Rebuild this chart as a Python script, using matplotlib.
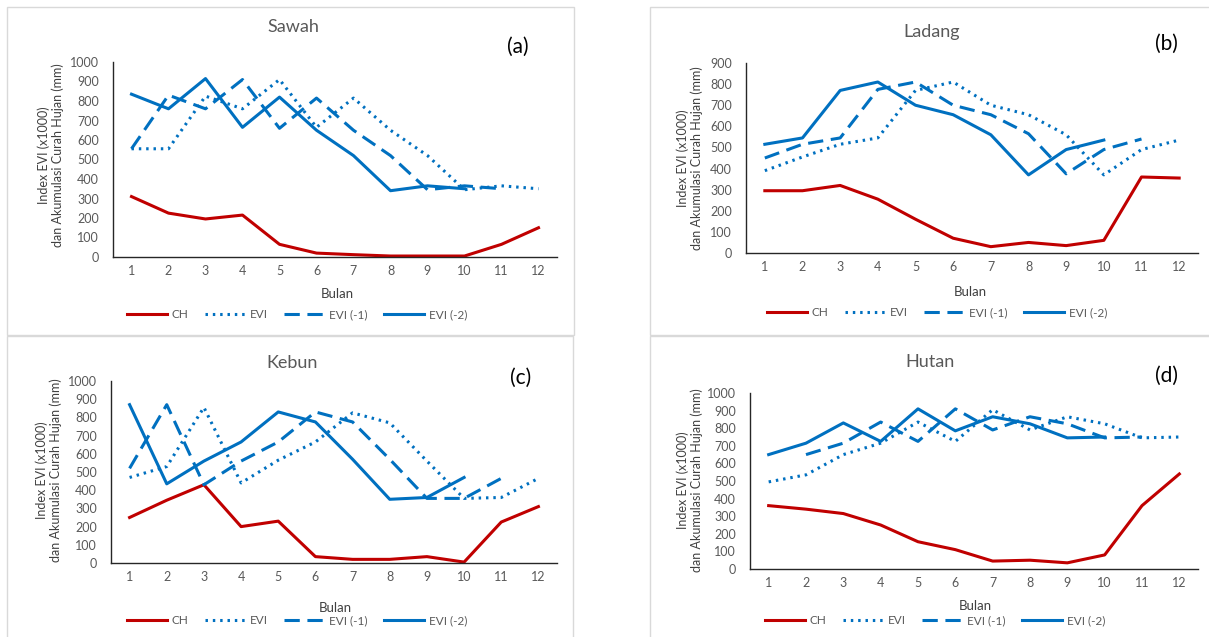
import numpy as np
import matplotlib
matplotlib.use('Agg')
import matplotlib.pyplot as plt
from matplotlib.patches import Rectangle

plt.rcParams['font.family'] = ['Lato', 'DejaVu Sans']

######### Data #############################################
bulan = list(range(1, 13))
nan = np.nan

# Sawah (a)
ch_sawah = [310, 225, 195, 215, 65, 20, 12, 5, 5, 5, 65, 150]
evi_sawah = [555, 555, 825, 760, 910, 665, 815, 650, 520, 345, 365, 350]
evi1_sawah = [555, 830, 760, 910, 660, 815, 650, 520, 345, 365, 350, nan]
evi2_sawah = [835, 760, 915, 665, 820, 650, 520, 340, 365, 350, nan, nan]

# Ladang (b)
ch_ladang = [295, 295, 320, 255, 160, 70, 30, 50, 35, 60, 360, 355]
evi_ladang = [390, 455, 515, 545, 770, 810, 700, 655, 560, 370, 490, 535]
evi1_ladang = [450, 515, 545, 775, 810, 700, 655, 565, 375, 490, 540, nan]
evi2_ladang = [515, 545, 770, 810, 700, 655, 560, 370, 490, 535, nan, nan]

# Kebun (c)
ch_kebun = [250, 345, 430, 200, 230, 35, 20, 20, 35, 5, 225, 310]
evi_kebun = [470, 530, 855, 440, 565, 665, 825, 770, 560, 355, 360, 465]
evi1_kebun = [520, 870, 430, 560, 665, 830, 775, 570, 355, 355, 465, nan]
evi2_kebun = [870, 435, 560, 665, 830, 775, 570, 350, 360, 470, nan, nan]

# Hutan (d)
ch_hutan = [360, 340, 315, 250, 155, 110, 45, 50, 35, 80, 360, 540]
evi_hutan = [495, 535, 650, 715, 835, 725, 905, 790, 865, 825, 745, 750]
evi1_hutan = [nan, 650, 715, 835, 725, 910, 790, 865, 825, 745, 750, nan]
evi2_hutan = [650, 715, 830, 725, 910, 785, 865, 825, 745, 750, nan, nan]

judul = ['Sawah', 'Ladang', 'Kebun', 'Hutan']
huruf = ['(a)', '(b)', '(c)', '(d)']
ymax = [1000, 900, 1000, 1000]

red = '#C00000'
blue = '#0070C0'
gray = '#595959'

W, H = 1209, 637
fig = plt.figure(figsize=(W / 100, H / 100), dpi=100)


def fx(x):
    return x / W


def fy(y):
    return 1 - y / H


def box(l, t, r, b):
    return [fx(l), fy(b), (r - l) / W, (b - t) / H]


# panel frames (light gray borders around each Excel chart)
for l, t, r, b in [(7, 7, 574, 335), (650, 7, 1215, 335), (7, 336, 573, 645), (650, 336, 1215, 645)]:
    fig.patches.append(Rectangle((fx(l), fy(b)), (r - l) / W, (b - t) / H, transform=fig.transFigure,
                                 fill=False, edgecolor='#D9D9D9', lw=1))

axes_pos = [(113, 62, 557, 257), (746, 63, 1198, 253), (111, 381, 557, 563), (750, 393, 1198, 569)]
title_pos = [(293, 27), (932, 32), (292, 363), (930, 362)]
tag_pos = [(518, 47), (1166, 44), (521, 378), (1166, 376)]
xlab_pos = [(337, 294), (970, 292), (335, 608), (975, 606)]
ylab_pos = [(51, 155), (690, 158), (49, 470), (690, 480)]
leg_pos = [(297, 315), (937, 313), (297, 621), (935, 621)]

series = [
    (ch_sawah, evi_sawah, evi1_sawah, evi2_sawah),
    (ch_ladang, evi_ladang, evi1_ladang, evi2_ladang),
    (ch_kebun, evi_kebun, evi1_kebun, evi2_kebun),
    (ch_hutan, evi_hutan, evi1_hutan, evi2_hutan),
]

for i in range(4):
    ch, evi, evi1, evi2 = series[i]
    ax = fig.add_axes(box(*axes_pos[i]))
    lw = 2.2
    ax.plot(bulan, ch, color=red, lw=lw, label='CH', solid_joinstyle='round')
    ax.plot(bulan, evi, color=blue, lw=lw, linestyle=(0, (0.8, 1.6)), label='EVI')
    ax.plot(bulan, evi1, color=blue, lw=lw, linestyle=(0, (5, 2.5)), label='EVI (-1)')
    ax.plot(bulan, evi2, color=blue, lw=lw, label='EVI (-2)', solid_joinstyle='round')

    ax.set_xlim(0.5, 12.5)
    ax.set_ylim(0, ymax[i])
    ax.set_xticks(bulan)
    ax.set_yticks(range(0, ymax[i] + 1, 100))
    for s in ['top', 'right']:
        ax.spines[s].set_visible(False)
    for s in ['left', 'bottom']:
        ax.spines[s].set_color('#262626')
        ax.spines[s].set_linewidth(1)
    ax.tick_params(length=0, labelsize=9, colors=gray)
    ax.tick_params(axis='x', pad=6)
    ax.tick_params(axis='y', pad=10)

    fig.text(fx(title_pos[i][0]), fy(title_pos[i][1]), judul[i], fontsize=13, color=gray,
             ha='center', va='center')
    fig.text(fx(tag_pos[i][0]), fy(tag_pos[i][1]), huruf[i], fontsize=15, color='black',
             ha='center', va='center')
    fig.text(fx(xlab_pos[i][0]), fy(xlab_pos[i][1]), 'Bulan', fontsize=9.5, color='#404040',
             ha='center', va='center')
    fig.text(fx(ylab_pos[i][0]), fy(ylab_pos[i][1]), 'Index EVI (x1000)\ndan Akumulasi Curah Hujan (mm)',
             fontsize=9, color='#404040', rotation=90, ha='center', va='center',
             multialignment='center', linespacing=1.15)

    leg = ax.legend(loc='center', bbox_to_anchor=(fx(leg_pos[i][0]), fy(leg_pos[i][1])),
                    bbox_transform=fig.transFigure, ncol=4, frameon=False, fontsize=8.5,
                    handlelength=3.4, handletextpad=0.4, columnspacing=1.4, borderpad=0)
    for t in leg.get_texts():
        t.set_color(gray)

fig.savefig('out.png', dpi=100)
